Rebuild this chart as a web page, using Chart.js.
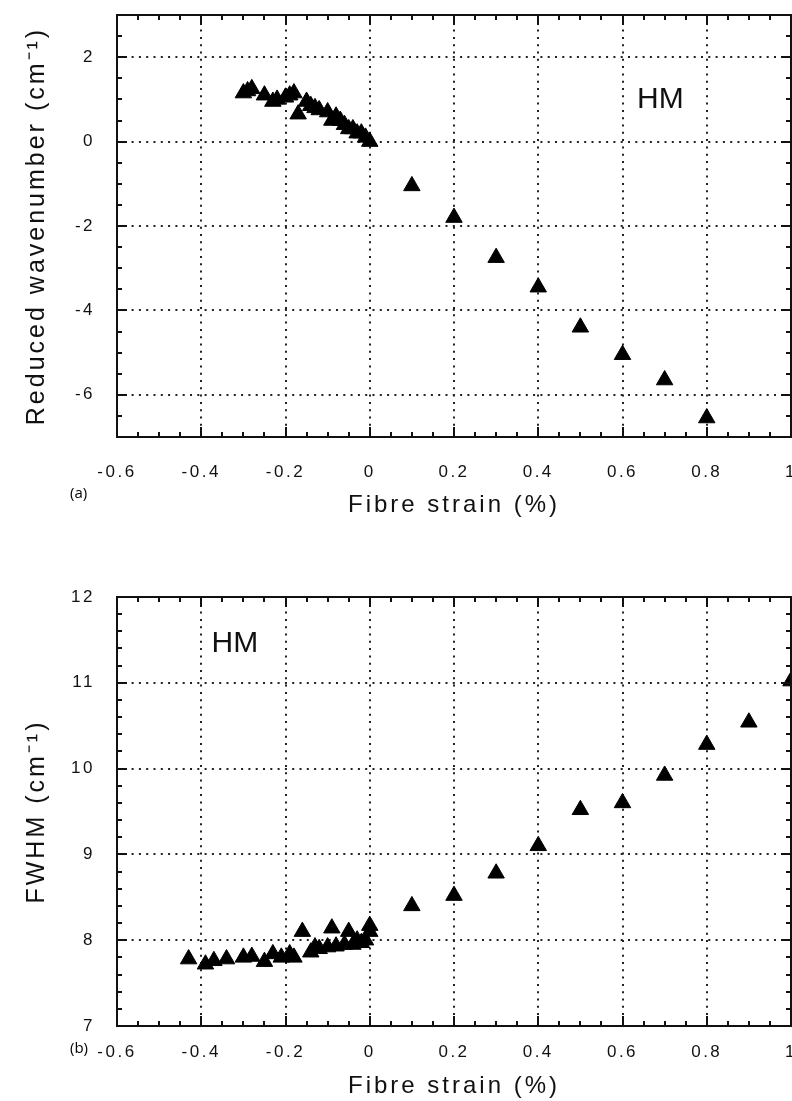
<!DOCTYPE html>
<html>
<head>
<meta charset="utf-8">
<script src="https://cdn.jsdelivr.net/npm/chart.js@4.4.1/dist/chart.umd.min.js"></script>
<style>
  html, body { margin: 0; padding: 0; background: #fff; overflow: hidden; }
  .wrap { position: absolute; left: 0; width: 792px; overflow: hidden; }
  #wrapA { top: 0; height: 540px; }
  #wrapB { top: 560px; height: 560px; }
  .tag { position: absolute; left: 70px; font-family: "Open Sans", sans-serif; font-size: 15px; color: #000; }
</style>
</head>
<body>
<div class="wrap" id="wrapA"><canvas id="chartA" width="812" height="540"></canvas></div>
<div class="wrap" id="wrapB"><canvas id="chartB" width="812" height="560"></canvas></div>
<div class="tag" style="top:482px">(a)</div>
<div class="tag" style="top:1037px">(b)</div>
<script>
// (a) reduced wavenumber vs fibre strain
const strainA = [-0.30, -0.29, -0.28, -0.25, -0.23, -0.22, -0.20, -0.19, -0.18, -0.17,
                 -0.15, -0.14, -0.13, -0.12, -0.10, -0.09, -0.08, -0.07, -0.06, -0.05,
                 -0.04, -0.03, -0.02, -0.01, 0.00,
                 0.1, 0.2, 0.3, 0.4, 0.5, 0.6, 0.7, 0.8];
const wavenumberA = [1.15, 1.2, 1.25, 1.1, 0.95, 1.0, 1.05, 1.1, 1.15, 0.65,
                     0.95, 0.85, 0.8, 0.75, 0.7, 0.5, 0.6, 0.5, 0.4, 0.3,
                     0.3, 0.2, 0.2, 0.1, 0.0,
                     -1.05, -1.8, -2.75, -3.45, -4.4, -5.05, -5.65, -6.55];

// (b) FWHM vs fibre strain
const strainB = [-0.43, -0.39, -0.37, -0.34, -0.30, -0.28, -0.25, -0.23, -0.21, -0.19,
                 -0.18, -0.16, -0.14, -0.13, -0.12, -0.10, -0.09, -0.08, -0.06, -0.05,
                 -0.04, -0.03, -0.02, -0.01, 0.00, 0.00,
                 0.1, 0.2, 0.3, 0.4, 0.5, 0.6, 0.7, 0.8, 0.9, 1.0];
const fwhmB = [7.78, 7.72, 7.76, 7.78, 7.80, 7.81, 7.75, 7.84, 7.80, 7.84,
               7.80, 8.10, 7.86, 7.92, 7.90, 7.92, 8.14, 7.93, 7.95, 8.10,
               7.95, 8.00, 7.97, 8.00, 8.17, 8.10,
               8.40, 8.52, 8.78, 9.10, 9.52, 9.60, 9.92, 10.28, 10.54, 11.02];

const xTicks = [-0.6, -0.4, -0.2, 0, 0.2, 0.4, 0.6, 0.8, 1];
const yTicksA = [-6, -4, -2, 0, 2];
const yTicksB = [7, 8, 9, 10, 11, 12];

const FONT = "'Liberation Sans', Arial, sans-serif";

// old-style wide lettering: one spacing for titles, another for tick labels (drawn after datasets, z=1)
const spacingPlugin = {
  id: "spacing",
  beforeDraw(chart) { chart.ctx.letterSpacing = "3px"; },
  beforeDatasetsDraw(chart) { chart.ctx.letterSpacing = "0px"; },
  afterDatasetsDraw(chart) { chart.ctx.letterSpacing = "2.5px"; },
  afterDraw(chart) { chart.ctx.letterSpacing = "0px"; }
};

// frame + inward tick marks on all four sides, plus the "HM" note
const framePlugin = {
  id: "frame",
  afterDraw(chart, args, opts) {
    const ctx = chart.ctx;
    const a = chart.chartArea;
    const xs = chart.scales.x, ys = chart.scales.y;
    ctx.save();
    ctx.letterSpacing = "0px";
    ctx.strokeStyle = "#111";
    ctx.lineWidth = 2;
    ctx.beginPath();
    const eps = 1e-6;
    for (let v = xs.min; v <= xs.max + eps; v += opts.xMinor) {
      const px = Math.round(xs.getPixelForValue(v));
      const major = Math.abs(v / opts.xMajor - Math.round(v / opts.xMajor)) < 1e-3;
      const len = major ? 10 : 5;
      ctx.moveTo(px, a.bottom); ctx.lineTo(px, a.bottom - len);
      ctx.moveTo(px, a.top); ctx.lineTo(px, a.top + len);
    }
    for (let v = ys.min; v <= ys.max + eps; v += opts.yMinor) {
      const py = Math.round(ys.getPixelForValue(v));
      const major = Math.abs(v / opts.yMajor - Math.round(v / opts.yMajor)) < 1e-3;
      const len = major ? 10 : 5;
      ctx.moveTo(a.left, py); ctx.lineTo(a.left + len, py);
      ctx.moveTo(a.right, py); ctx.lineTo(a.right - len, py);
    }
    ctx.stroke();
    ctx.strokeRect(a.left, a.top, a.right - a.left, a.bottom - a.top);
    ctx.fillStyle = "#111";
    ctx.font = "30px " + FONT;
    ctx.textAlign = "center";
    ctx.textBaseline = "middle";
    ctx.fillText("HM", xs.getPixelForValue(opts.noteX), ys.getPixelForValue(opts.noteY));
    ctx.restore();
  }
};

function makeChart(id, xs, ys, yTicks, yMin, yMax, yTitle, top, axisH, tickPadX, titlePadB, frame) {
  const ctx = document.getElementById(id).getContext("2d");
  return new Chart(ctx, {
    type: "scatter",
    data: {
      datasets: [{
        data: xs.map((x, i) => ({ x: x, y: ys[i] })),
        pointStyle: "triangle",
        pointRadius: 9.5,
        backgroundColor: "#000",
        borderColor: "#000",
        borderWidth: 1
      }]
    },
    options: {
      responsive: false,
      animation: false,
      clip: false,
      // canvas is 812 wide inside a 792 box: right padding 21 puts the frame at x=791
      layout: { padding: { left: 0, top: top, right: 21, bottom: 0 } },
      plugins: { legend: { display: false }, tooltip: { enabled: false }, frame: frame },
      scales: {
        x: {
          type: "linear",
          min: -0.6, max: 1,
          afterBuildTicks: s => { s.ticks = xTicks.map(v => ({ value: v })); },
          afterFit: s => { s.height = axisH; s.paddingLeft = 0; s.paddingRight = 0; },
          grid: { color: "#222", lineWidth: 2, drawTicks: false },
          border: { display: false, dash: [2, 5.3] },
          ticks: { color: "#111", padding: tickPadX, z: 1, font: { family: FONT, size: 17 },
                   maxRotation: 0, autoSkip: false,
                   callback: v => String(Math.round(v * 10) / 10) },
          title: { display: true, text: "Fibre strain (%)", color: "#111",
                   font: { family: FONT, size: 24, lineHeight: 1 }, padding: { top: 0, bottom: titlePadB } }
        },
        y: {
          type: "linear",
          min: yMin, max: yMax,
          afterBuildTicks: s => { s.ticks = yTicks.map(v => ({ value: v })); },
          afterFit: s => { s.width = 117; s.paddingTop = 0; s.paddingBottom = 0; },
          grid: { color: "#222", lineWidth: 2, drawTicks: false },
          border: { display: false, dash: [2, 5.3] },
          ticks: { color: "#111", padding: 22, z: 1, font: { family: FONT, size: 17 }, autoSkip: false },
          title: { display: true, text: yTitle, color: "#111",
                   font: { family: FONT, size: 25, lineHeight: 1 }, padding: { top: 25, bottom: 0 } }
        }
      }
    },
    plugins: [spacingPlugin, framePlugin]
  });
}

makeChart("chartA", strainA, wavenumberA, yTicksA, -7, 3, "Reduced wavenumber (cm\u207B\u00B9)",
  15, 103, 25, 23,
  { xMinor: 0.05, xMajor: 0.2, yMinor: 0.5, yMajor: 2, noteX: 0.69, noteY: 1.0 });

makeChart("chartB", strainB, fwhmB, yTicksB, 7, 12, "FWHM (cm\u207B\u00B9)",
  37, 94, 16, 22,
  { xMinor: 0.05, xMajor: 0.2, yMinor: 0.2, yMajor: 1, noteX: -0.32, noteY: 11.46 });
</script>
</body>
</html>
